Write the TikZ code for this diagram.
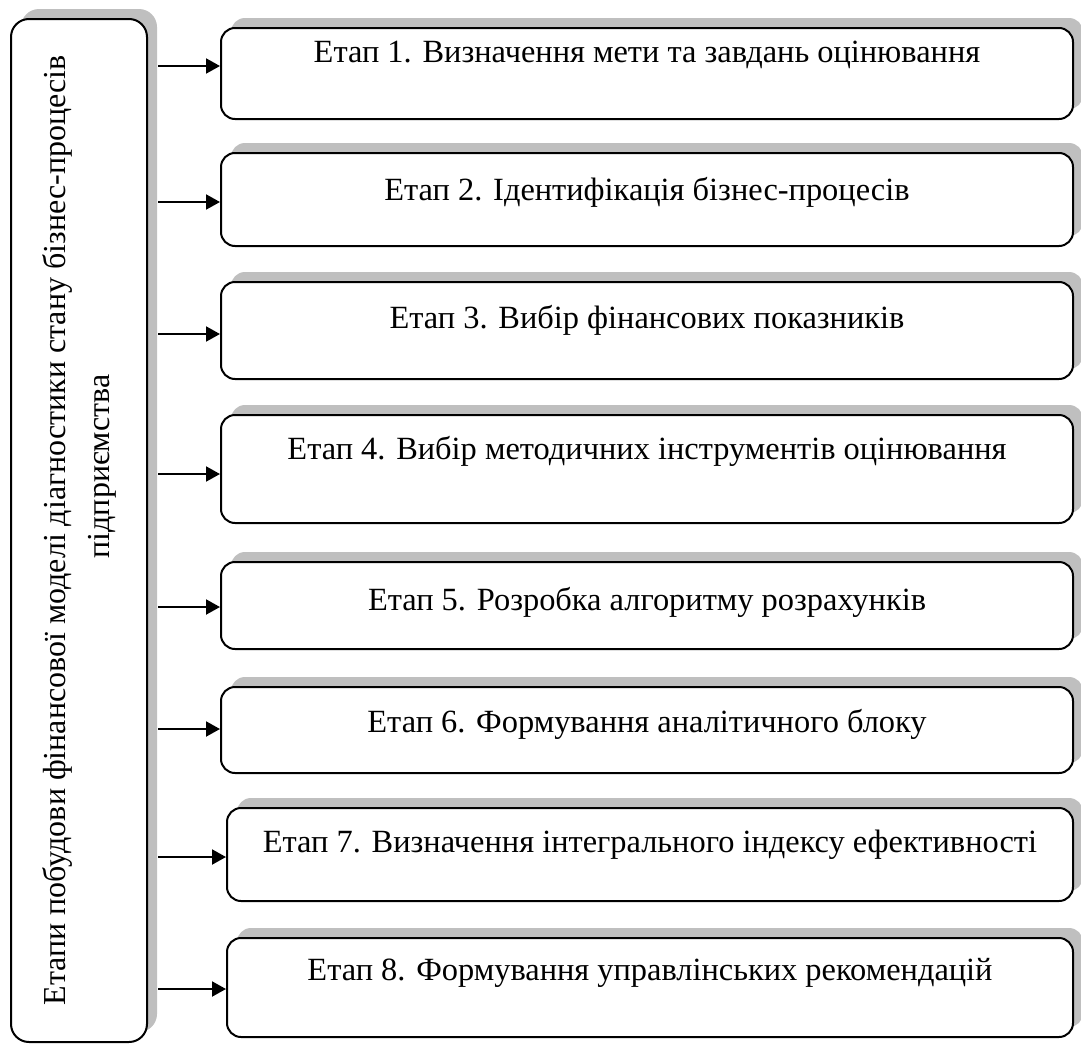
\documentclass[tikz,border=0pt]{standalone}
\usepackage{fontspec}
\setmainfont{Liberation Serif}
\usetikzlibrary{
    shadows,
    arrows.meta
    }

\begin{document}
\begin{tikzpicture}[x=0.5pt, y=-0.5pt]
\tikzset{panel/.style =
        {
            draw,
            line width=1pt,
            fill=white,
            drop shadow={shadow xshift=5pt, shadow yshift=5pt, fill=black!25, opacity=1},
            inner sep=0pt,
            font=\fontsize{16.2}{22}\selectfont
        }
}

\tikzset{stage/.style =
        {
            panel,
            rounded corners=7pt,
            text height=10pt
        }
}

\tikzset{feed/.style = {
            line width=1pt,
            -{Triangle[length=7pt, width=7.5pt]},
            shorten <=5pt
        }
}
		\useasboundingbox (0,0) rectangle (1081,1044);

		\node[panel, rounded corners=9pt, minimum width=68pt, minimum height=511.5pt] (main) at (79,530.5) {};
		\node[rotate=90, align=center, font=\fontsize{16}{22}\selectfont] (maintitle) at (main.center)
			{Етапи побудови фінансової моделі діагностики стану бізнес-процесів\\ \hspace*{64pt}підприємства};

		\foreach \n / \xl / \yt / \yb / \ya / \up / \txt in
			{1/221/28/119/66/21/Визначення мети та завдань оцінювання,
				2/221/153/246/202/9/Ідентифікація бізнес-процесів,
				3/221/282/379/334/12/Вибір фінансових показників,
				4/221/415/523/474/20/Вибір методичних інструментів оцінювання,
				5/221/562/649/607/5/Розробка алгоритму розрахунків,
				6/221/687/773/729/7.5/Формування аналітичного блоку,
				7/227/808/901/857/12/Визначення інтегрального індексу ефективності,
				8/227/938/1037/989/17/Формування управлінських рекомендацій}
			{
				\node[stage, minimum width={(1073-\xl)*0.5pt}, minimum height={(\yb-\yt)*0.5pt}, text depth=\up pt]
					(s\n) at ({(\xl+1073)/2},{(\yt+\yb)/2}) {Етап \n. \txt};
				\coordinate (a\n) at (0,\ya);
				\draw [feed] (main.east |- a\n) -- (s\n.west |- a\n);
			}

	\end{tikzpicture}
\end{document}
